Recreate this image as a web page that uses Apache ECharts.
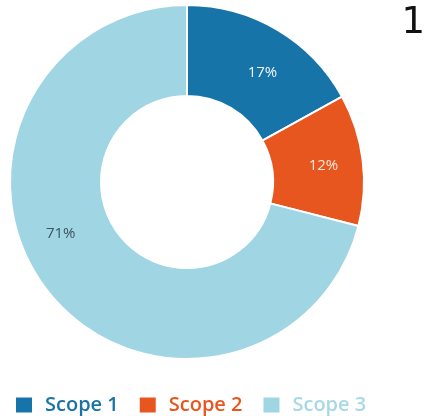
<!DOCTYPE html>
<html>
<head>
<meta charset="utf-8">
<script src="https://cdn.jsdelivr.net/npm/echarts@6/dist/echarts.min.js"></script>
<style>html,body{margin:0;padding:0;background:#fff;}#c{width:424px;height:416px;}</style>
</head>
<body>
<div id="c"></div>
<script>
const categories = ['Scope 1', 'Scope 2', 'Scope 3'];
const values = [17, 12, 71];
const colors = ['#1774a8', '#e8561f', '#a0d5e4'];
const legendTextColors = ['#1a72a6', '#e8561f', '#a8d8e6'];
const labelColors = ['#eef6fb', '#fbe9df', '#3c5560'];
const titleText = '1';

const chart = echarts.init(document.getElementById('c'));
chart.setOption({
  animation: false,
  title: {
    text: titleText, right: -1, top: 5, padding: 0,
    textStyle: { fontFamily: 'DejaVu Sans', fontSize: 37, fontWeight: 'normal', color: '#111' }
  },
  legend: {
    left: 9, top: 390, itemWidth: 18, itemHeight: 17, itemGap: 19,
    icon: 'rect',
    data: categories.map((c, i) => ({ name: c, textStyle: { color: legendTextColors[i] } })),
    textStyle: { fontFamily: 'Open Sans', fontSize: 20, fontWeight: 600, padding: [0, 0, 0, 7] }
  },
  series: [{
    type: 'pie',
    center: [187, 182],
    radius: [86, 177],
    startAngle: 90,
    clockwise: true,
    itemStyle: { borderColor: '#fff', borderWidth: 2 },
    label: { show: true, position: 'inside', formatter: '{c}%', fontFamily: 'Open Sans', fontSize: 15 },
    labelLine: { show: false },
    labelLayout: function (p) {
      const off = [[7, 7], [3, 1], [-20, -31]][p.dataIndex];
      return { dx: off[0], dy: off[1] };
    },
    data: categories.map((c, i) => ({
      name: c, value: values[i],
      itemStyle: { color: colors[i] },
      label: { color: labelColors[i] }
    }))
  }]
});
</script>
</body>
</html>
